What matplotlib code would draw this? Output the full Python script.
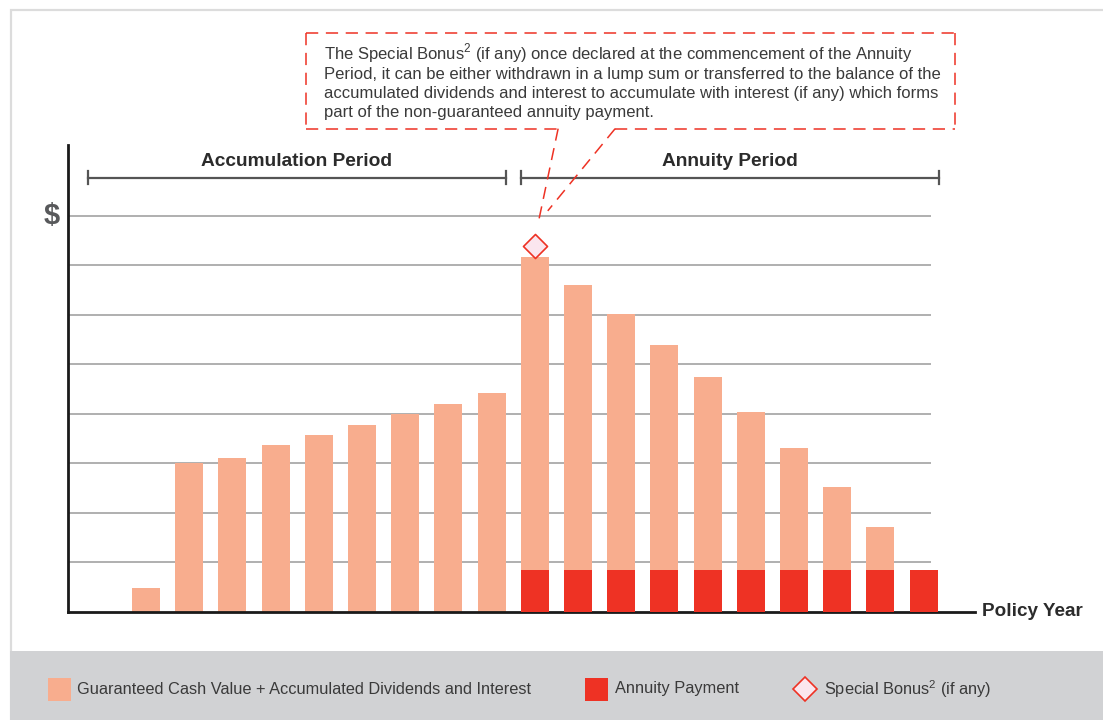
import numpy as np
import matplotlib
matplotlib.use("Agg")
from matplotlib import pyplot as plt
from matplotlib.patches import Rectangle
from matplotlib.lines import Line2D

# region: data
years = list(range(1, 20))
cash_value = [0.48, 3.0, 3.1, 3.38, 3.57, 3.78, 4.0, 4.2, 4.42,
              7.16, 6.61, 6.02, 5.39, 4.75, 4.04, 3.31, 2.53, 1.72, 0.0]
annuity = [0, 0, 0, 0, 0, 0, 0, 0, 0,
           0.85, 0.85, 0.85, 0.85, 0.85, 0.85, 0.85, 0.85, 0.85, 0.85]
bonus_year = 10
bonus_value = 7.39
grid_levels = [1, 2, 3, 4, 5, 6, 7, 8]
periods = [("Accumulation Period", -0.34, 9.33), ("Annuity Period", 9.68, 19.35)]
callout_lines = ["The Special Bonus$^{2}$ (if any) once declared at the commencement of the Annuity",
                 "Period, it can be either withdrawn in a lump sum or transferred to the balance of the",
                 "accumulated dividends and interest to accumulate with interest (if any) which forms",
                 "part of the non-guaranteed annuity payment."]
legend_labels = ["Guaranteed Cash Value + Accumulated Dividends and Interest",
                 "Annuity Payment", "Special Bonus$^{2}$ (if any)"]
# endregion

salmon = "#f8ad8e"
red = "#ee3224"
dark = "#2b2b2b"
plt.rcParams['font.family'] = ['Liberation Sans', 'DejaVu Sans']
plt.rcParams['mathtext.fontset'] = 'custom'
plt.rcParams['mathtext.rm'] = 'Liberation Sans'

W, H = 1103, 720
fig = plt.figure(figsize=(W / 100, H / 100), dpi=100)

# frame and legend band (figure pixels)
fig.patches.append(Rectangle((11 / W, 0), 1.2, (H - 10) / H, transform=fig.transFigure,
                             facecolor="none", edgecolor="#dcdcdc", linewidth=1.6, zorder=-2))
fig.patches.append(Rectangle((10 / W, 0), 1.0, 69 / H, transform=fig.transFigure,
                             facecolor="#d1d2d4", edgecolor="none", zorder=-1))

# axes placed in pixels: x 68..975, y 145..612
ax = fig.add_axes([68 / W, (H - 612) / H, (975 - 68) / W, (612 - 145) / H])
ax.set_facecolor("none")
ax.set_xlim(-0.806, 20.19)
ax.set_ylim(0, 9.43)

ax.hlines(grid_levels, -0.8, 19.17, color="#9a9a9a", linewidth=1.1, zorder=1)

ax.bar(years, cash_value, width=0.65, color=salmon, zorder=2)
ax.bar(years, annuity, width=0.65, color=red, zorder=3)
ax.scatter([bonus_year], [bonus_value], marker="D", s=150, facecolor="#fbe6ee",
           edgecolor=red, linewidth=1.2, zorder=4, clip_on=False)

for spine in ["top", "right"]:
    ax.spines[spine].set_visible(False)
for spine in ["left", "bottom"]:
    ax.spines[spine].set_color("#1a1a1a")
    ax.spines[spine].set_linewidth(2.0)
ax.set_xticks([])
ax.set_yticks([])

# period brackets
for label, x0, x1 in periods:
    ax.plot([x0, x1], [8.77, 8.77], color="#555555", linewidth=1.6, clip_on=False)
    ax.plot([x0, x0], [8.64, 8.9], color="#555555", linewidth=1.6, clip_on=False)
    ax.plot([x1, x1], [8.64, 8.9], color="#555555", linewidth=1.6, clip_on=False)
    ax.text((x0 + x1) / 2, 9.09, label, ha="center", va="center", fontsize=13.8,
            fontweight="bold", color=dark, clip_on=False)

ax.text(-0.99, 8.0, "$", ha="right", va="center", fontsize=21, fontweight="bold",
        color="#58595b", clip_on=False)
ax.text(20.35, 0.0, "Policy Year", ha="left", va="center", fontsize=13.6,
        fontweight="bold", color=dark, clip_on=False)

# callout box, dashed, with an opening where the pointer leaves it
bx0, bx1, by0, by1 = 4.70, 19.73, 9.76, 11.70
dash = dict(color=red, linewidth=1.1, linestyle=(0, (8, 5)), clip_on=False)
ax.plot([bx0, bx1], [by1, by1], **dash)
ax.plot([bx1, bx1], [by1, by0], **dash)
ax.plot([bx0, bx0], [by1, by0], **dash)
ax.plot([bx0, 10.54], [by0, by0], **dash)
ax.plot([11.86, bx1], [by0, by0], **dash)
ax.plot([10.54, 10.07], [by0, 7.82], **dash)
ax.plot([11.86, 10.3], [by0, 8.1], **dash)
for i, line in enumerate(callout_lines):
    ax.text(5.12, 11.15 - i * 0.385, line, ha="left", va="baseline", fontsize=12,
            color="#3a3a3a", clip_on=False)

# legend in the gray band
ly = 31 / H
fig.patches.append(Rectangle((48 / W, 19 / H), 23 / W, 23 / H, transform=fig.transFigure,
                             facecolor=salmon, edgecolor="none", zorder=2))
fig.text(77 / W, ly, legend_labels[0], ha="left", va="center", fontsize=11.8, color="#3a3a3a")
fig.patches.append(Rectangle((585 / W, 19 / H), 23 / W, 23 / H, transform=fig.transFigure,
                             facecolor=red, edgecolor="none", zorder=2))
fig.text(615 / W, ly, legend_labels[1], ha="left", va="center", fontsize=11.8, color="#3a3a3a")
fig.lines.append(Line2D([805 / W], [ly], marker="D", markersize=12, markerfacecolor="#fbe6ee",
                        markeredgecolor=red, markeredgewidth=1.2, transform=fig.transFigure,
                        linestyle="none", zorder=3))
fig.text(824 / W, ly, legend_labels[2], ha="left", va="center", fontsize=11.8, color="#3a3a3a")

fig.savefig("out.png", dpi=100)
